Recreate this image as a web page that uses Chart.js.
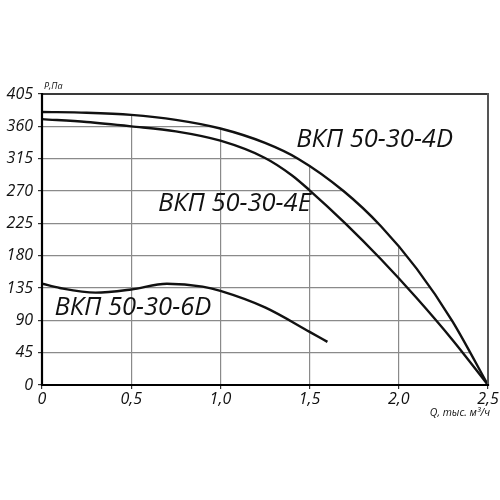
<!DOCTYPE html>
<html>
<head>
<meta charset="utf-8">
<style>
html,body{margin:0;padding:0;background:#fff;}
#c{display:block;}
</style>
<script src="https://cdn.jsdelivr.net/npm/chart.js@4/dist/chart.umd.min.js"></script>
</head>
<body>
<canvas id="c" width="500" height="500"></canvas>
<script>
// ---- data ----
const seriesNames = ['ВКП 50-30-4D', 'ВКП 50-30-4E', 'ВКП 50-30-6D'];
const q4D = [0, 0.25, 0.5, 0.75, 1.0, 1.25, 1.435, 1.69, 1.9, 2.1, 2.3, 2.5];
const p4D = [380, 379, 376, 369, 357, 337, 315, 270, 221, 162, 89, 0];
const q4E = [0, 0.25, 0.5, 0.75, 1.0, 1.25, 1.4, 1.5, 1.7, 1.9, 2.1, 2.3, 2.5];
const p4E = [370, 366, 360, 353, 340, 316, 292, 271, 225, 175, 121, 63, 0];
const q6D = [0, 0.1, 0.3, 0.5, 0.7, 0.9, 1.0, 1.25, 1.5, 1.6];
const p6D = [141, 135, 128.5, 133, 141, 137, 131, 108, 74, 60];
const xTickLabels = ['0', '0,5', '1,0', '1,5', '2,0', '2,5'];
const yTickLabels = ['0', '45', '90', '135', '180', '225', '270', '315', '360', '405'];
// label anchors in data units [q, p]
const labelAnchors = [[1.425, 342], [0.65, 252], [0.07, 108]];
const xTitle = 'Q, тыс. м³/ч';
const yTitle = 'P,Па';

const pts = (xs, ys) => xs.map((x, i) => ({x: x, y: ys[i]}));

const curveStyle = {
  borderColor: '#111',
  borderWidth: 2.4,
  pointRadius: 0,
  cubicInterpolationMode: 'monotone',
};

const overlay = {
  id: 'overlay',
  afterDatasetsDraw(chart) {
    const ctx = chart.ctx;
    const xs = chart.scales.x, ys = chart.scales.y;
    const a = chart.chartArea;
    ctx.save();
    // frame
    ctx.lineCap = 'square';
    ctx.strokeStyle = '#3a3a3a';
    ctx.lineWidth = 2;
    ctx.beginPath(); ctx.moveTo(a.left, a.top); ctx.lineTo(a.right, a.top); ctx.stroke();
    ctx.strokeStyle = '#555';
    ctx.beginPath(); ctx.moveTo(a.right, a.top); ctx.lineTo(a.right, a.bottom); ctx.stroke();
    ctx.strokeStyle = '#000';
    ctx.lineWidth = 2.2;
    ctx.beginPath(); ctx.moveTo(a.left, a.top); ctx.lineTo(a.left, a.bottom); ctx.lineTo(a.right, a.bottom); ctx.stroke();
    // curve labels
    ctx.fillStyle = '#111';
    ctx.font = 'italic 25.5px "Open Sans"';
    ctx.textAlign = 'left';
    ctx.textBaseline = 'middle';
    seriesNames.forEach((n, i) => {
      ctx.fillText(n, xs.getPixelForValue(labelAnchors[i][0]), ys.getPixelForValue(labelAnchors[i][1]));
    });
    // axis titles
    ctx.font = 'italic 9px "Open Sans"';
    ctx.textBaseline = 'bottom';
    ctx.fillText(yTitle, a.left + 2, a.top - 3);
    ctx.font = 'italic 10.5px "Open Sans"';
    ctx.textAlign = 'right';
    ctx.textBaseline = 'middle';
    ctx.fillText(xTitle, a.right + 2, a.bottom + 28);
    ctx.restore();
  }
};

new Chart(document.getElementById('c'), {
  type: 'line',
  data: {
    datasets: [
      Object.assign({label: seriesNames[0], data: pts(q4D, p4D), fill: 'end', backgroundColor: '#fff'}, curveStyle),
      Object.assign({label: seriesNames[1], data: pts(q4E, p4E), fill: false}, curveStyle),
      Object.assign({label: seriesNames[2], data: pts(q6D, p6D), fill: false}, curveStyle),
    ]
  },
  options: {
    responsive: false,
    animation: false,
    layout: {padding: {top: 94, right: 12, left: 0, bottom: 0}},
    plugins: {legend: {display: false}, tooltip: {enabled: false}},
    scales: {
      x: {
        type: 'linear', min: 0, max: 2.5,
        afterFit(s) { s.height = 115; },
        border: {display: false},
        grid: {color: '#8a8a8a', lineWidth: 1.2, tickLength: 4, tickColor: '#333'},
        ticks: {
          stepSize: 0.5, padding: 1, color: '#111', maxRotation: 0,
          font: {family: 'Open Sans', style: 'italic', size: 16},
          callback: (v) => xTickLabels[Math.round(v / 0.5)]
        }
      },
      y: {
        min: 0, max: 405,
        afterFit(s) { s.width = 42; },
        border: {display: false},
        grid: {color: '#8a8a8a', lineWidth: 1.2, tickLength: 4, tickColor: '#333'},
        ticks: {
          stepSize: 45, padding: 5, color: '#111',
          font: {family: 'Open Sans', style: 'italic', size: 16},
          callback: (v) => yTickLabels[Math.round(v / 45)]
        }
      }
    }
  },
  plugins: [overlay]
});
</script>
</body>
</html>
